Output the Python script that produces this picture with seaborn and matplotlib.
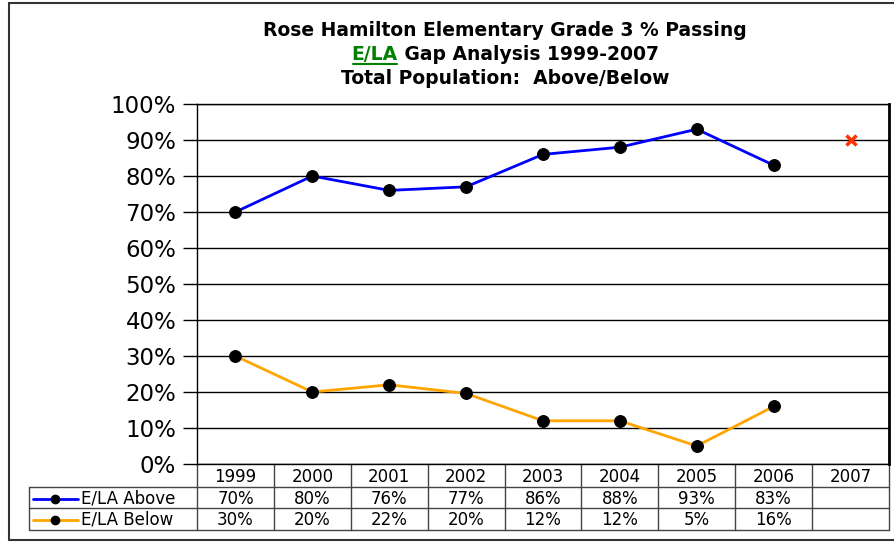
import matplotlib
matplotlib.use('Agg')
import matplotlib.pyplot as plt
import pandas as pd
import seaborn as sns

# chart values
years = ['1999', '2000', '2001', '2002', '2003', '2004', '2005', '2006', '2007']
above = [70, 80, 76, 77, 86, 88, 93, 83]
below = [30, 20, 22, 19.6, 12, 12, 5, 16]
series_names = ['E/LA Above', 'E/LA Below']
series_colors = ['#0000FF', '#FFA500']
target_year = '2007'
target_value = 90
y_ticks = [0, 10, 20, 30, 40, 50, 60, 70, 80, 90, 100]

W, H = 895, 542


def fx(px):
    return px / W


def fy(py):
    return 1 - py / H


sns.set_style('white')
plt.rcParams['font.family'] = ['DejaVu Sans']
plt.rcParams['text.color'] = 'black'
plt.rcParams['ytick.color'] = 'black'
plt.rcParams['ytick.labelcolor'] = 'black'

fig = plt.figure(figsize=(W / 100, H / 100), dpi=100)

# plot area in pixels
left, right, top, bottom = 197, 889, 104, 464
ax = fig.add_axes([fx(left), fy(bottom), fx(right - left), (bottom - top) / H])

rows = []
for name, vals in zip(series_names, [above, below]):
    for i, v in enumerate(vals):
        rows.append({'year': i, 'value': v, 'series': name})
df = pd.DataFrame(rows)

sns.lineplot(data=df, x='year', y='value', hue='series', palette=series_colors,
             linewidth=2, marker='o', markersize=8.5, markerfacecolor='black',
             markeredgecolor='black', legend=False, ax=ax, zorder=3)

ax.plot(years.index(target_year), target_value, marker='x', color='#FF3300',
        markersize=7, markeredgewidth=2.5, linestyle='none', zorder=4)

ax.set_xlim(-0.5, len(years) - 0.5)
ax.set_ylim(0, 100)
ax.set_yticks(y_ticks)
ax.set_yticklabels([f'{t}%' for t in y_ticks], fontsize=16.5, color='black')
ax.set_xticks([])
ax.set_xlabel('')
ax.set_ylabel('')
ax.yaxis.grid(True, color='black', linewidth=1)
ax.tick_params(axis='y', length=10, width=1, color='black', pad=5, left=True)
for side in ['left', 'right', 'top', 'bottom']:
    ax.spines[side].set_visible(True)
    ax.spines[side].set_color('black')
    ax.spines[side].set_linewidth(1)
ax.spines['right'].set_linewidth(2)

# overlay in pixel coords for the data table, title and frame
ov = fig.add_axes([0, 0, 1, 1], zorder=-1)
ov.set_xlim(0, W)
ov.set_ylim(H, 0)
ov.axis('off')

line_kw = dict(color='#444444', linewidth=1)
col_w = (right - left) / len(years)
row_h = [464, 487, 508, 530]
tab_left = 29
tab_fs = 12

ov.plot([left, left], [row_h[0], row_h[-1]], **line_kw)
for i in range(1, len(years) + 1):
    x = left + i * col_w
    ov.plot([x, x], [row_h[0], row_h[-1]], **line_kw)
ov.plot([tab_left, right], [row_h[1], row_h[1]], **line_kw)
ov.plot([tab_left, right], [row_h[2], row_h[2]], **line_kw)
ov.plot([tab_left, right], [row_h[3], row_h[3]], **line_kw)
ov.plot([tab_left, tab_left], [row_h[1], row_h[3]], **line_kw)

for i, yr in enumerate(years):
    cx = left + (i + 0.5) * col_w
    ov.text(cx, (row_h[0] + row_h[1]) / 2 + 1, yr, ha='center', va='center', fontsize=tab_fs)

for r, (name, vals, col) in enumerate(zip(series_names, [above, below], series_colors)):
    cy = (row_h[r + 1] + row_h[r + 2]) / 2 + 1
    ov.plot([33, 78], [cy, cy], color=col, linewidth=2)
    ov.plot([55], [cy], marker='o', color='black', markersize=6)
    ov.text(81, cy, name, ha='left', va='center', fontsize=tab_fs)
    for i, v in enumerate(vals):
        cx = left + (i + 0.5) * col_w
        ov.text(cx, cy, f'{v:.0f}%', ha='center', va='center', fontsize=tab_fs)

# outer frame
ov.plot([9, 9], [3, 540], color='#333333', linewidth=1.5)
ov.plot([9, W], [3, 3], color='#333333', linewidth=1.5)
ov.plot([9, W], [540, 540], color='#333333', linewidth=1.5)

# title
tcx = 505
title_kw = dict(fontsize=13.5, fontweight='bold', family=['DejaVu Sans'], va='center')
fig.text(fx(tcx), fy(30), 'Rose Hamilton Elementary Grade 3 % Passing', ha='center', **title_kw)
fig.text(fx(tcx), fy(78), 'Total Population:  Above/Below', ha='center', **title_kw)

# second line: green underlined "E/LA" followed by black text
fig.canvas.draw()
renderer = fig.canvas.get_renderer()
probe = fig.text(0, 0, 'E/LA Gap Analysis 1999-2007', **title_kw)
full_w = probe.get_window_extent(renderer).width
probe.remove()
start = tcx - full_w / 2
t1 = fig.text(fx(start), fy(54), 'E/LA', ha='left', color='#008000', **title_kw)
w1 = t1.get_window_extent(renderer).width
fig.text(fx(start + w1), fy(54), ' Gap Analysis 1999-2007', ha='left', **title_kw)
ov.plot([start + 2, start + w1 - 1], [64, 64], color='#008000', linewidth=1.5)

fig.savefig('out.png', dpi=100)
